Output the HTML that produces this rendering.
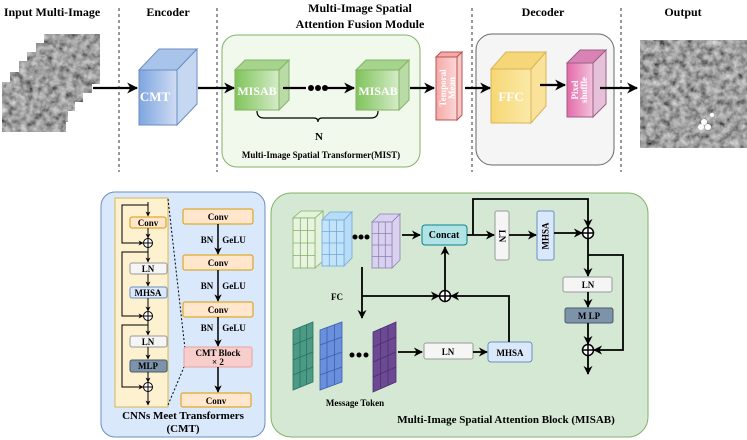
<!DOCTYPE html>
<html><head><meta charset="utf-8"><style>
html,body{margin:0;padding:0;background:#fff;}
svg{display:block;font-family:"Liberation Serif",serif;font-weight:bold;}
</style></head><body>
<svg width="747" height="440" viewBox="0 0 747 440" xmlns="http://www.w3.org/2000/svg">
<defs>
<filter id="noise" x="0" y="0" width="100%" height="100%">
<feTurbulence type="fractalNoise" baseFrequency="0.15" numOctaves="4" seed="4"/>
<feColorMatrix type="saturate" values="0"/>
<feComponentTransfer><feFuncR type="linear" slope="1.1" intercept="-0.2"/><feFuncG type="linear" slope="1.1" intercept="-0.2"/><feFuncB type="linear" slope="1.1" intercept="-0.2"/><feFuncA type="linear" slope="0" intercept="1"/></feComponentTransfer>
</filter>
<marker id="ar" viewBox="0 0 10 10" refX="9" refY="5" markerWidth="5" markerHeight="5" orient="auto"><path d="M0,0 L10,5 L0,10 L3,5 z" fill="#000"/></marker>
<linearGradient id="gb" x1="0" x2="1"><stop offset="0" stop-color="#7ea6e0"/><stop offset="1" stop-color="#cfdcf3"/></linearGradient>
<linearGradient id="gg" x1="0" x2="1"><stop offset="0" stop-color="#7fc45a"/><stop offset="1" stop-color="#d5ebc8"/></linearGradient>
<linearGradient id="gy" x1="0" x2="1"><stop offset="0" stop-color="#f7d774"/><stop offset="1" stop-color="#fbe9a8"/></linearGradient>
<linearGradient id="gp" x1="0" x2="1"><stop offset="0" stop-color="#e46aa8"/><stop offset="1" stop-color="#f3c2dc"/></linearGradient>
<linearGradient id="gr" x1="0" x2="1"><stop offset="0" stop-color="#f4a9a8"/><stop offset="1" stop-color="#fbd7d6"/></linearGradient>
</defs>

<g font-size="12" text-anchor="middle">
<text x="52" y="16">Input Multi-Image</text>
<text x="168" y="16">Encoder</text>
<text x="360" y="12">Multi-Image Spatial</text>
<text x="360" y="28">Attention Fusion Module</text>
<text x="543" y="16">Decoder</text>
<text x="683" y="16">Output</text>
</g>
<g stroke="#333" stroke-dasharray="3,3" stroke-width="1">
<line x1="119" y1="8" x2="119" y2="172"/><line x1="217" y1="8" x2="217" y2="172"/>
<line x1="472" y1="8" x2="472" y2="172"/><line x1="621" y1="8" x2="621" y2="172"/>
</g>

<g stroke="#fff" stroke-width="1">
<rect x="44" y="34" width="56" height="50" fill="#777" filter="url(#noise)"/>
<rect x="36" y="43" width="56" height="50" fill="#777" filter="url(#noise)"/>
<rect x="27" y="52" width="56" height="50" fill="#777" filter="url(#noise)"/>
<rect x="19" y="61" width="56" height="50" fill="#777" filter="url(#noise)"/>
<rect x="10" y="72" width="58" height="50" fill="#777" filter="url(#noise)"/>
<rect x="2" y="82" width="64" height="50" fill="#777" filter="url(#noise)"/>
</g>

<g stroke="#6c8ebf" stroke-width="1">
<polygon points="139,70 159,49 197,49 177,70" fill="#a9c4eb"/>
<polygon points="177,70 197,49 197,104 177,125" fill="#c6d8f1"/>
<rect x="139" y="70" width="38" height="55" fill="url(#gb)"/>
</g>
<text x="155" y="101" font-size="13" fill="#fff" text-anchor="middle">CMT</text>

<rect x="222" y="35" width="198" height="132" rx="15" fill="#f1f9ec" stroke="#82b366"/>
<g stroke="#82b366">
<polygon points="235,70 245,60 289,60 279,70" fill="#a7d48c"/>
<polygon points="279,70 289,60 289,100 279,110" fill="#b9dba5"/>
<rect x="235" y="70" width="44" height="40" fill="url(#gg)"/>
<polygon points="356,70 366,60 409,60 399,70" fill="#a7d48c"/>
<polygon points="399,70 409,60 409,100 399,110" fill="#b9dba5"/>
<rect x="356" y="70" width="43" height="40" fill="url(#gg)"/>
</g>
<text x="257" y="95" font-size="12" fill="#fff" text-anchor="middle">MISAB</text>
<text x="378" y="95" font-size="12" fill="#fff" text-anchor="middle">MISAB</text>
<path d="M257,111 Q257,118 264,118 L314,118 Q318,118 318,122 Q318,118 322,118 L371,118 Q378,118 378,111" fill="none" stroke="#000" stroke-width="1.2"/>
<text x="319" y="140" font-size="11" text-anchor="middle">N</text>
<text x="321" y="158" font-size="9" text-anchor="middle">Multi-Image Spatial Transformer(MIST)</text>

<g stroke="#b85450">
<polygon points="436,57 441,52 462,52 457,57" fill="#f4a9a8"/>
<polygon points="457,57 462,52 462,115 457,120" fill="#f8c8c7"/>
<rect x="436" y="57" width="21" height="63" fill="url(#gr)"/>
</g>
<text transform="translate(447,88) rotate(-90)" font-size="9" fill="#fff" text-anchor="middle"><tspan x="0" y="-1">Temporal</tspan><tspan x="0" y="8">Mean</tspan></text>

<rect x="476" y="34" width="138" height="131" rx="16" fill="#f5f5f5" stroke="#666"/>
<g stroke="#d6b656">
<polygon points="491,69 506,52 546,52 531,69" fill="#f5d77a"/>
<polygon points="531,69 546,52 546,106 531,123" fill="#fbe29a"/>
<rect x="491" y="69" width="40" height="54" fill="url(#gy)"/>
</g>
<text x="511" y="101" font-size="13" fill="#fff" text-anchor="middle">FFC</text>
<g stroke="#996185">
<polygon points="567,63 580,50 606,50 593,63" fill="#d982b5"/>
<polygon points="593,63 606,50 606,104 593,117" fill="#e6c0d8"/>
<rect x="567" y="63" width="26" height="54" fill="url(#gp)"/>
</g>
<text transform="translate(579,90) rotate(-90)" font-size="9" fill="#fff" text-anchor="middle"><tspan x="0" y="-1">Pixel</tspan><tspan x="0" y="8">shuffle</tspan></text>

<rect x="640" y="40" width="107" height="108" fill="#777" filter="url(#noise)"/>
<circle cx="701" cy="127" r="3" fill="#fff"/><circle cx="708" cy="127" r="3" fill="#fff"/><circle cx="704" cy="122" r="3" fill="#fff"/><circle cx="712" cy="115" r="2" fill="#fff"/>

<g stroke="#000" stroke-width="2.2" fill="none">
<line x1="93" y1="88" x2="137" y2="88" marker-end="url(#ar)"/>
<line x1="198" y1="88" x2="234" y2="88" marker-end="url(#ar)"/>
<line x1="283" y1="88" x2="306" y2="88"/>
<line x1="327" y1="88" x2="354" y2="88" marker-end="url(#ar)"/>
<line x1="410" y1="88" x2="434" y2="88" marker-end="url(#ar)"/>
<line x1="465" y1="88" x2="490" y2="88" marker-end="url(#ar)"/>
<line x1="540" y1="85" x2="565" y2="85" marker-end="url(#ar)"/>
<line x1="600" y1="88" x2="637" y2="88" marker-end="url(#ar)"/>
</g>
<circle cx="311" cy="88" r="3" fill="#000"/><circle cx="318" cy="88" r="3" fill="#000"/><circle cx="325" cy="88" r="3" fill="#000"/>

<rect x="101" y="192" width="164" height="245" rx="14" fill="#dae8fc" stroke="#6c8ebf"/>
<rect x="115" y="198" width="53" height="209" fill="#fdf1cf" stroke="#d6b656"/>
<g stroke="#000" stroke-dasharray="2,2" fill="none"><line x1="168" y1="199" x2="185" y2="349"/><line x1="168" y1="405" x2="184" y2="367"/></g>
<g font-size="9" text-anchor="middle">
<rect x="130" y="217" width="36" height="11" rx="2" fill="#ffe6cc" stroke="#d79b00"/><text x="148" y="226">Conv</text>
<rect x="130" y="263" width="37" height="11" rx="2" fill="#f5f5f5" stroke="#999"/><text x="148" y="272">LN</text>
<rect x="130" y="287" width="37" height="11" rx="2" fill="#dae8fc" stroke="#6c8ebf"/><text x="148" y="296">MHSA</text>
<rect x="130" y="336" width="37" height="11" rx="2" fill="#f5f5f5" stroke="#999"/><text x="148" y="345">LN</text>
<rect x="130" y="360" width="37" height="12" rx="2" fill="#7d93aa" stroke="#4a5a6a"/><text x="148" y="369">MLP</text>
</g>
<g stroke="#000" stroke-width="1" fill="none">
<line x1="148" y1="202" x2="148" y2="216" marker-end="url(#ar)"/>
<line x1="148" y1="228" x2="148" y2="238" marker-end="url(#ar)"/>
<line x1="148" y1="247" x2="148" y2="262" marker-end="url(#ar)"/>
<line x1="148" y1="274" x2="148" y2="286" marker-end="url(#ar)"/>
<line x1="148" y1="298" x2="148" y2="311" marker-end="url(#ar)"/>
<line x1="148" y1="320" x2="148" y2="335" marker-end="url(#ar)"/>
<line x1="148" y1="347" x2="148" y2="359" marker-end="url(#ar)"/>
<line x1="148" y1="372" x2="148" y2="382" marker-end="url(#ar)"/>
<line x1="148" y1="391" x2="148" y2="405" marker-end="url(#ar)"/>
<polyline points="148,205 122,205 122,243 143,243" marker-end="url(#ar)"/>
<polyline points="148,252 122,252 122,316 143,316" marker-end="url(#ar)"/>
<polyline points="148,325 122,325 122,387 143,387" marker-end="url(#ar)"/>
<circle cx="148" cy="243" r="4.5" fill="#fff"/><path d="M143.5,243h9M148,238.5v9"/>
<circle cx="148" cy="316" r="4.5" fill="#fff"/><path d="M143.5,316h9M148,311.5v9"/>
<circle cx="148" cy="387" r="4.5" fill="#fff"/><path d="M143.5,387h9M148,382.5v9"/>
</g>
<g font-size="9" text-anchor="middle">
<rect x="183" y="209" width="70" height="15" rx="2" fill="#ffe6cc" stroke="#d79b00"/><text x="218" y="220">Conv</text>
<rect x="183" y="255" width="70" height="15" rx="2" fill="#ffe6cc" stroke="#d79b00"/><text x="218" y="266">Conv</text>
<rect x="183" y="302" width="70" height="15" rx="2" fill="#ffe6cc" stroke="#d79b00"/><text x="218" y="313">Conv</text>
<rect x="184" y="347" width="68" height="20" rx="2" fill="#f8cecc" stroke="#e8a09d"/><text x="218" y="356">CMT Block</text><text x="218" y="365">× 2</text>
<rect x="181" y="393" width="70" height="14" rx="2" fill="#ffe6cc" stroke="#d79b00"/><text x="216" y="404">Conv</text>
<text x="207" y="243">BN</text><text x="234" y="243">GeLU</text>
<text x="207" y="289">BN</text><text x="234" y="289">GeLU</text>
<text x="207" y="331">BN</text><text x="234" y="331">GeLU</text>
</g>
<g stroke="#000" stroke-width="1.5">
<line x1="218" y1="224" x2="218" y2="254" marker-end="url(#ar)"/>
<line x1="218" y1="270" x2="218" y2="301" marker-end="url(#ar)"/>
<line x1="218" y1="317" x2="218" y2="346" marker-end="url(#ar)"/>
<line x1="218" y1="367" x2="218" y2="392" marker-end="url(#ar)"/>
</g>
<text x="183" y="419" font-size="11" text-anchor="middle">CNNs Meet Transformers</text>
<text x="183" y="432" font-size="11" text-anchor="middle">(CMT)</text>

<rect x="271" y="193" width="377" height="244" rx="20" fill="#d5e8d4" stroke="#82b366"/>
<g stroke-width="0.8">
<g stroke="#82b366"><polygon points="293,218 301,211 323,211 315,218" fill="#e4f1dc"/><polygon points="315,218 323,211 323,261 315,268" fill="#e4f1dc"/>
<rect x="293" y="218" width="22" height="50" fill="#e8f4e0"/><path d="M293,230.5h22M293,243h22M293,255.5h22M300.3,218v50M307.6,218v50" fill="none"/></g>
<g stroke="#6fa8dc"><polygon points="322,220 330,212 352,212 344,220" fill="#b8dcf7"/><polygon points="344,220 352,212 352,258 344,266" fill="#b8dcf7"/>
<rect x="322" y="220" width="22" height="46" fill="#c3e3fb"/><path d="M322,231.5h22M322,243h22M322,254.5h22M329.3,220v46M336.6,220v46" fill="none"/></g>
<g stroke="#8f7fb8"><polygon points="372,222 380,214 400,214 392,222" fill="#d9d2ee"/><polygon points="392,222 400,214 400,260 392,268" fill="#d9d2ee"/>
<rect x="372" y="222" width="20" height="46" fill="#d9d2ee"/><path d="M372,233.5h20M372,245h20M372,256.5h20M378.7,222v46M385.3,222v46" fill="none"/></g>
</g>
<circle cx="355" cy="237" r="2.5"/><circle cx="361" cy="237" r="2.5"/><circle cx="367" cy="237" r="2.5"/>
<g stroke-width="0.8">
<g stroke="#2e6f5e"><polygon points="293,330 313,322 313,382 293,390" fill="#4a9a85"/><path d="M293,345 L313,337M293,360 L313,352M293,375 L313,367M300,327v60M306.5,324.5v60" fill="none"/></g>
<g stroke="#3a5fb0"><polygon points="320,330 342,322 342,382 320,390" fill="#6a8fdc"/><path d="M320,345 L342,337M320,360 L342,352M320,375 L342,367M327,327v60M334.5,324.5v60" fill="none"/></g>
<g stroke="#4a2f6e"><polygon points="373,332 396,322 396,382 373,392" fill="#6b4a93"/><path d="M373,347 L396,337M373,362 L396,352M373,377 L396,367M380.5,329v60M388,325.5v60" fill="none"/></g>
</g>
<circle cx="352" cy="355" r="2.5"/><circle cx="359" cy="355" r="2.5"/><circle cx="366" cy="355" r="2.5"/>

<g font-size="9" text-anchor="middle">
<rect x="422" y="225" width="45" height="20" rx="3" fill="#b0e3e6" stroke="#0e8088"/><text x="444" y="238" font-size="10">Concat</text>
<rect x="495" y="211" width="14" height="49" rx="2" fill="#f5f5f5" stroke="#999"/><text transform="translate(502,236) rotate(90)" y="3">LN</text>
<rect x="537" y="211" width="17" height="49" rx="2" fill="#dae8fc" stroke="#6c8ebf"/><text transform="translate(545.5,236) rotate(-90)" y="3">MHSA</text>
<rect x="563" y="277" width="49" height="15" rx="2" fill="#f5f5f5" stroke="#999"/><text x="588" y="288">LN</text>
<rect x="565" y="308" width="48" height="15" rx="2" fill="#7d93aa" stroke="#4a5a6a"/><text x="589" y="319">M LP</text>
<rect x="424" y="343" width="49" height="16" rx="2" fill="#f5f5f5" stroke="#999"/><text x="448" y="355">LN</text>
<rect x="488" y="342" width="44" height="20" rx="3" fill="#dae8fc" stroke="#6c8ebf"/><text x="510" y="356">MHSA</text>
<text x="337" y="300">FC</text>
<text x="355" y="406">Message Token</text>
</g>
<text x="506" y="423" font-size="11" text-anchor="middle">Multi-Image Spatial Attention Block (MISAB)</text>

<g stroke="#000" stroke-width="1.8" fill="none">
<line x1="402" y1="235" x2="420" y2="235" marker-end="url(#ar)"/>
<line x1="467" y1="235" x2="494" y2="235" marker-end="url(#ar)"/>
<line x1="509" y1="235" x2="536" y2="235" marker-end="url(#ar)"/>
<line x1="554" y1="233" x2="582" y2="233" marker-end="url(#ar)"/>
<polyline points="473,235 473,199 588,199 588,227" marker-end="url(#ar)"/>
<line x1="588" y1="239" x2="588" y2="276" marker-end="url(#ar)"/>
<polyline points="588,255 623,255 623,350 594,350" marker-end="url(#ar)"/>
<line x1="588" y1="292" x2="588" y2="307" marker-end="url(#ar)"/>
<line x1="588" y1="323" x2="588" y2="344" marker-end="url(#ar)"/>
<line x1="588" y1="356" x2="588" y2="374" marker-end="url(#ar)"/>
<line x1="362" y1="267" x2="362" y2="318" marker-end="url(#ar)"/>
<line x1="362" y1="296" x2="439" y2="296" marker-end="url(#ar)"/>
<line x1="445" y1="290" x2="445" y2="247" marker-end="url(#ar)"/>
<polyline points="509,342 509,296 451,296" marker-end="url(#ar)"/>
<line x1="398" y1="352" x2="422" y2="352" marker-end="url(#ar)"/>
<line x1="473" y1="352" x2="487" y2="352" marker-end="url(#ar)"/>
</g>
<g stroke="#000" stroke-width="1.5" fill="#fff">
<circle cx="588" cy="233" r="5.5"/><path d="M582.5,233h11M588,227.5v11"/>
<circle cx="588" cy="350" r="5.5"/><path d="M582.5,350h11M588,344.5v11"/>
<circle cx="445" cy="296" r="5.5"/><path d="M439.5,296h11M445,290.5v11"/>
</g>
</svg>
</body></html>
